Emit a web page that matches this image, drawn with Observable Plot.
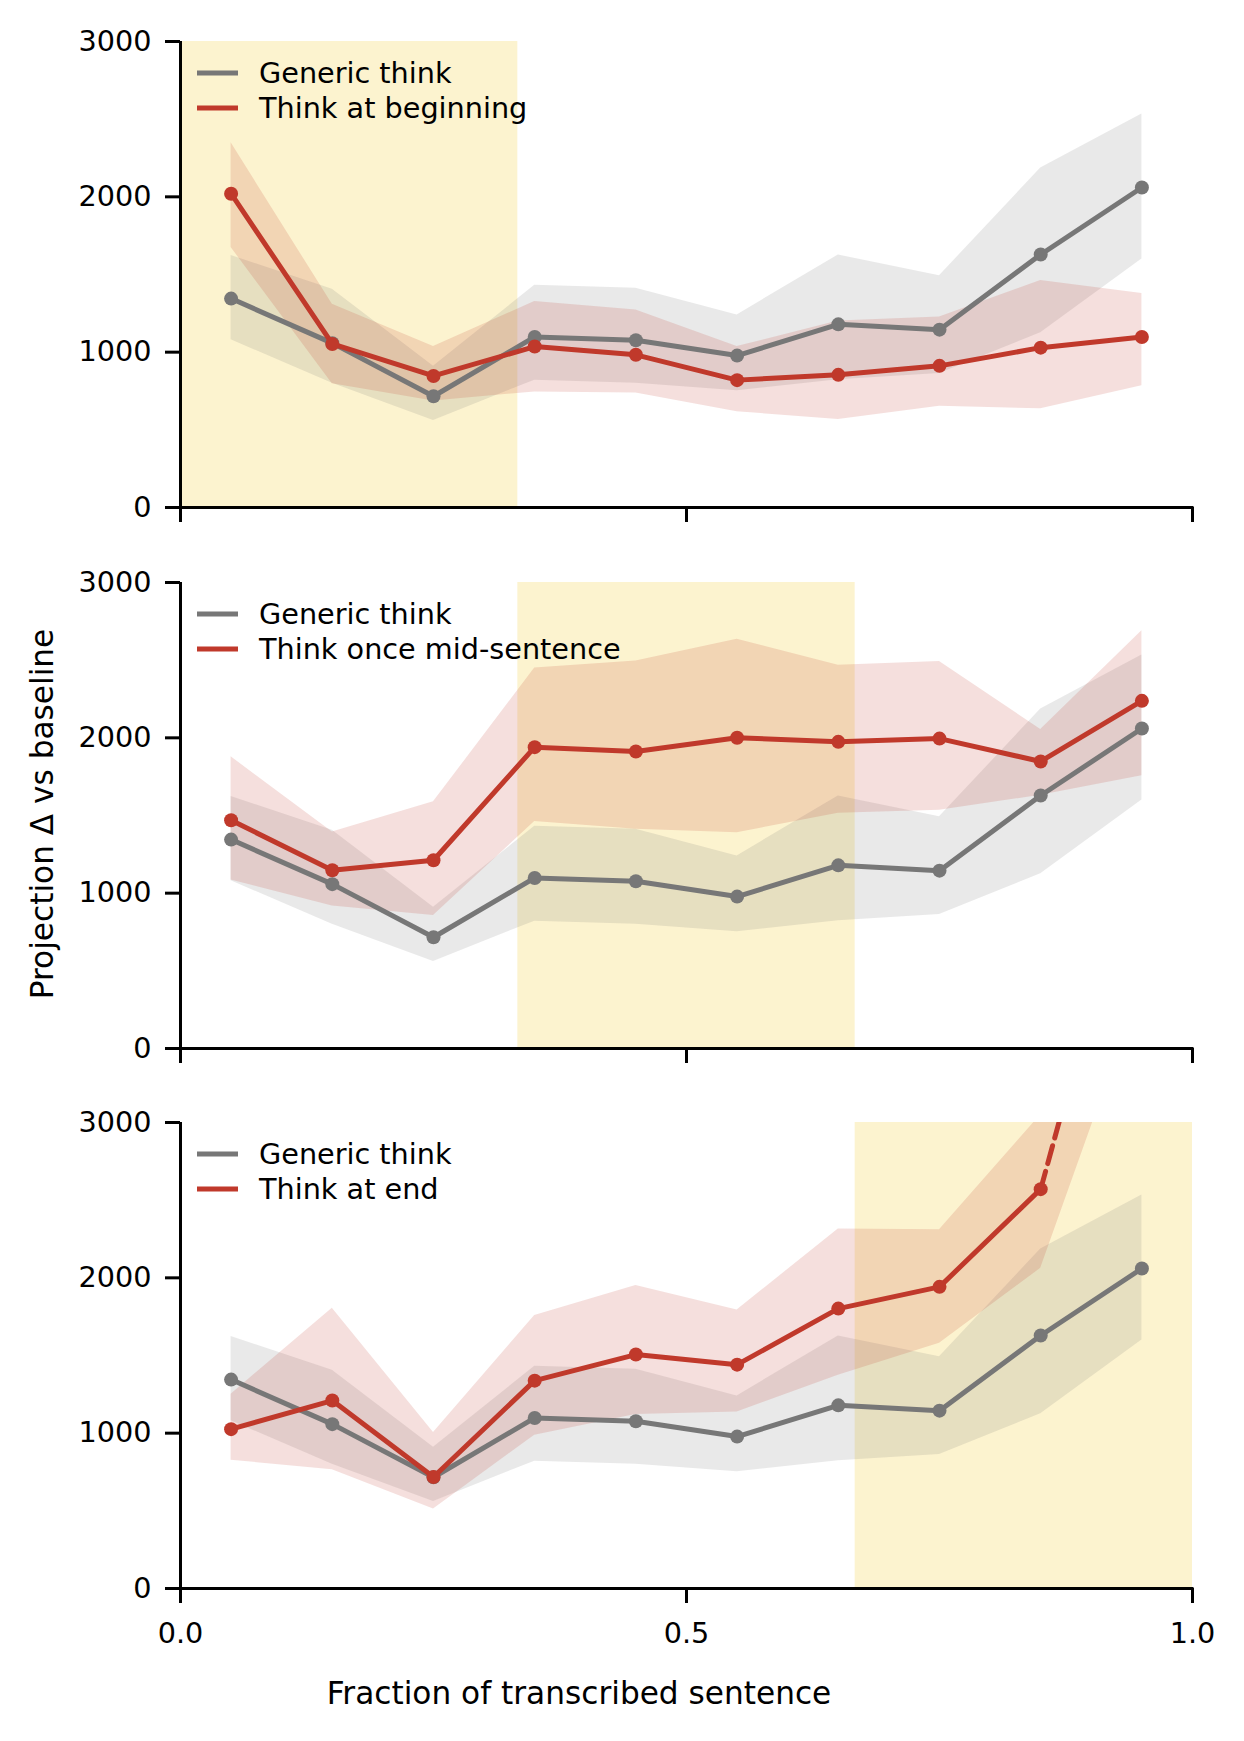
<!DOCTYPE html>
<html>
<head>
<meta charset="utf-8">
<script src="https://cdn.jsdelivr.net/npm/d3@7"></script>
<script src="https://cdn.jsdelivr.net/npm/@observablehq/plot@0.6"></script>
<style>
  html, body { margin: 0; padding: 0; background: #ffffff; }
  #fig { position: relative; width: 1244px; height: 1741px; font-family: "DejaVu Sans", sans-serif; color: #000; }
  .panel { position: absolute; left: 0; }
  .xlabel { position: absolute; font-size: 31.2px; white-space: nowrap; transform: translate(-50%, -50%); }
  .ylabel { position: absolute; font-size: 31.2px; white-space: nowrap; transform: translate(-50%, -50%) rotate(-90deg); }
</style>
</head>
<body>
<div id="fig"></div>
<script>
// ---- data ----
const fractions = [0.05, 0.15, 0.25, 0.35, 0.45, 0.55, 0.65, 0.75, 0.85, 0.95];

const genericMean  = [1345, 1058, 716, 1098, 1077, 978, 1179, 1145, 1629, 2060];
const genericUpper = [1622, 1405, 910, 1430, 1412, 1240, 1626, 1492, 2185, 2534];
const genericLower = [1080, 800, 560, 820, 800, 752, 822, 862, 1125, 1600];

const beginMean  = [2020, 1053, 847, 1036, 983, 820, 854, 912, 1029, 1098];
const beginUpper = [2348, 1308, 1036, 1326, 1271, 1036, 1200, 1227, 1462, 1377];
const beginLower = [1674, 797, 686, 744, 737, 617, 566, 652, 635, 783];

const midMean  = [1469, 1148, 1212, 1940, 1912, 2001, 1974, 1995, 1848, 2238];
const midUpper = [1878, 1393, 1588, 2449, 2495, 2635, 2468, 2491, 2054, 2690];
const midLower = [1085, 918, 856, 1462, 1412, 1389, 1515, 1533, 1630, 1756];

const endMean  = [1026, 1210, 718, 1338, 1506, 1441, 1802, 1942, 2571, 4950];
const endUpper = [1251, 1804, 1005, 1758, 1951, 1793, 2314, 2309, 3050, 6000];
const endLower = [826, 764, 512, 987, 1120, 1136, 1373, 1579, 2061, 3890];

const seriesLabels = ["Think at beginning", "Think once mid-sentence", "Think at end"];
const genericLabel = "Generic think";
const thinkWindows = [[0, 1/3], [1/3, 2/3], [2/3, 1]];

const yTicks = [0, 1000, 2000, 3000];
const xTicks = [0, 0.5, 1.0];
const yMax = 3000;
const xLabel = "Fraction of transcribed sentence";
const yLabel = "Projection \u0394 vs baseline";

// ---- styling ----
const GRAY = "#777777";
const RED = "#c0392b";
const YELLOW = "#f1c40f";
const LW = 5;
const R = 7;
const FONT = "DejaVu Sans";
const FS = "28.7px";

const panels = [
  {mean: beginMean, upper: beginUpper, lower: beginLower},
  {mean: midMean, upper: midUpper, lower: midLower},
  {mean: endMean, upper: endUpper, lower: endLower}
];

const fig = document.getElementById("fig");
const PANEL_STEP = 540.5;

panels.forEach((p, i) => {
  const rows = fractions.map((x, k) => ({
    x,
    g: genericMean[k], ghi: genericUpper[k], glo: genericLower[k],
    r: p.mean[k], rhi: p.upper[k], rlo: p.lower[k]
  }));
  // segments whose end leaves the axis range are drawn dashed
  const solidSegs = [], dashedSegs = [];
  for (let k = 0; k < rows.length - 1; k++) {
    const seg = [{...rows[k], seg: k}, {...rows[k + 1], seg: k}];
    (rows[k + 1].r > yMax || rows[k].r > yMax ? dashedSegs : solidSegs).push(...seg);
  }
  const last = i === panels.length - 1;
  const height = last ? 660 : 540;
  const win = [{x1: thinkWindows[i][0], x2: thinkWindows[i][1]}];

  const chart = Plot.plot({
    width: 1244,
    height,
    marginTop: 41,
    marginLeft: 180,
    marginRight: 52,
    marginBottom: height - 41 - 466,
    x: {domain: [0, 1]},
    y: {domain: [0, yMax]},
    style: {fontFamily: FONT, fontSize: FS, color: "black", background: "transparent", overflow: "visible"},
    marks: [
      Plot.rect(win, {x1: "x1", x2: "x2", fill: YELLOW, fillOpacity: 0.2}),
      Plot.areaY(rows, {x: "x", y1: "glo", y2: "ghi", fill: GRAY, fillOpacity: 0.16, clip: true}),
      Plot.areaY(rows, {x: "x", y1: "rlo", y2: "rhi", fill: RED, fillOpacity: 0.16, clip: true}),
      Plot.line(rows, {x: "x", y: "g", stroke: GRAY, strokeWidth: LW, clip: true}),
      Plot.dot(rows, {x: "x", y: "g", r: R, fill: GRAY, clip: true}),
      Plot.line(solidSegs, {x: "x", y: "r", z: "seg", stroke: RED, strokeWidth: LW, clip: true}),
      Plot.line(dashedSegs, {x: "x", y: "r", z: "seg", stroke: RED, strokeWidth: LW, strokeDasharray: "18.5,8", clip: true}),
      Plot.dot(rows, {x: "x", y: "r", r: R, fill: RED, clip: true}),
      Plot.ruleX([0], {stroke: "black", strokeWidth: 3}),
      Plot.ruleY([0], {stroke: "black", strokeWidth: 3, strokeLinecap: "square"}),
      Plot.axisY({ticks: yTicks, tickSize: 15, tickPadding: 14, tickFormat: d3.format("d"), stroke: "black", strokeWidth: 3, label: null}),
      Plot.axisX({ticks: xTicks, tickSize: 15, tickPadding: 19, tickFormat: last ? d3.format(".1f") : () => "", stroke: "black", strokeWidth: 3, label: null})
    ]
  });
  chart.classList.add("panel");
  chart.style.top = (PANEL_STEP * i) + "px";

  // legend
  const svg = d3.select(chart);
  const entries = [{label: genericLabel, color: GRAY}, {label: seriesLabels[i], color: RED}];
  const lg = svg.append("g").attr("text-anchor", "start");
  entries.forEach((e, k) => {
    const y = 41 + 32 + 35 * k;
    lg.append("line").attr("x1", 197).attr("x2", 238).attr("y1", y).attr("y2", y)
      .attr("stroke", e.color).attr("stroke-width", 5);
    lg.append("text").attr("x", 259).attr("y", y).attr("dy", "0.36em")
      .attr("text-anchor", "start")
      .attr("font-family", FONT).attr("font-size", FS).attr("fill", "black")
      .text(e.label);
  });
  fig.appendChild(chart);
});

const xl = document.createElement("div");
xl.className = "xlabel"; xl.textContent = xLabel;
xl.style.left = "579px"; xl.style.top = "1693px";
fig.appendChild(xl);

const yl = document.createElement("div");
yl.className = "ylabel"; yl.textContent = yLabel;
yl.style.left = "42px"; yl.style.top = "814px";
fig.appendChild(yl);
</script>
</body>
</html>
